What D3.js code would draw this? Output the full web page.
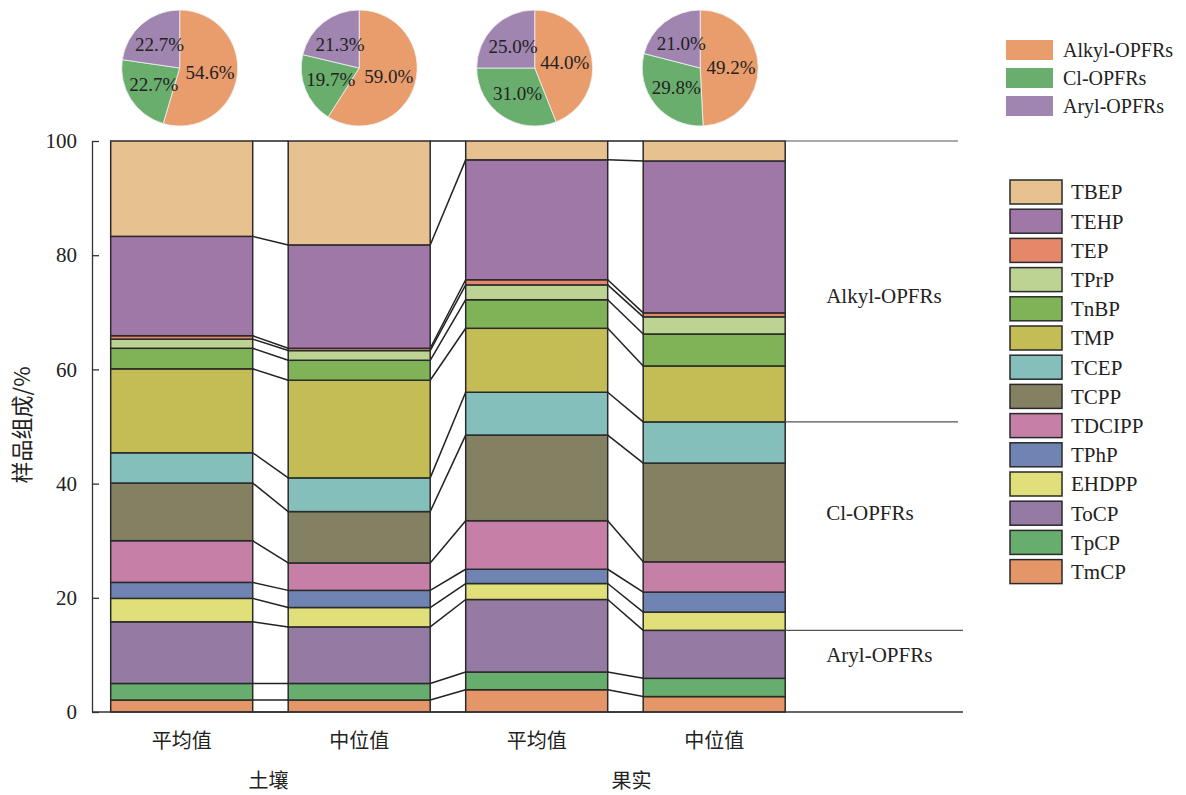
<!DOCTYPE html>
<html lang="zh">
<head>
    <meta charset="UTF-8">
    <title>OPFRs composition</title>
    <script src="https://d3js.org/d3.v7.min.js"></script>
    <style>
        body {
            margin: 0;
            background: #fff;
        }
        svg text {
            font-family: "Liberation Serif", "Noto Sans CJK SC", serif;
            fill: #222;
        }
        .cjk {
            font-family: "Noto Sans CJK SC", sans-serif;
        }
    </style>
</head>
<body>
    <div id="chart"></div>

    <script>
        // stacking order, bottom to top
        const compounds = ['TmCP', 'TpCP', 'ToCP', 'EHDPP', 'TPhP', 'TDCIPP', 'TCPP', 'TCEP',
                           'TMP', 'TnBP', 'TPrP', 'TEP', 'TEHP', 'TBEP'];
        const colors = ['#e59668', '#66ad6e', '#957ba3', '#e0df7a', '#7084b4', '#c680a8', '#838162', '#84bfbc',
                        '#c4bc55', '#80b257', '#bdd394', '#e5886a', '#a078a8', '#e8c190'];

        const barLabels = ['平均值', '中位值', '平均值', '中位值'];
        const groupLabels = ['土壤', '果实'];

        // sample composition (%) per bar, in compound order
        const soilMean    = [2.1, 2.9, 10.8, 4.1, 2.8, 7.3, 10.1, 5.3, 14.7, 3.6, 1.6, 0.6, 17.4, 16.7];
        const soilMedian  = [2.1, 2.9, 9.9, 3.4, 3.0, 4.8, 9.0, 5.9, 17.1, 3.5, 1.7, 0.4, 18.1, 18.2];
        const fruitMean   = [3.9, 3.1, 12.7, 2.8, 2.5, 8.5, 15.0, 7.5, 11.2, 5.0, 2.6, 0.9, 21.0, 3.3];
        const fruitMedian = [2.7, 3.2, 8.4, 3.2, 3.5, 5.3, 17.3, 7.2, 9.8, 5.6, 3.0, 0.7, 26.6, 3.5];
        const bars = [soilMean, soilMedian, fruitMean, fruitMedian];

        // class shares for the pies
        const classes = ['Alkyl-OPFRs', 'Cl-OPFRs', 'Aryl-OPFRs'];
        const classColors = ['#e99c6c', '#6aae6e', '#a085b0'];
        const pieSoilMean    = [54.6, 22.7, 22.7];
        const pieSoilMedian  = [59.0, 19.7, 21.3];
        const pieFruitMean   = [44.0, 31.0, 25.0];
        const pieFruitMedian = [49.2, 29.8, 21.0];
        const pies = [pieSoilMean, pieSoilMedian, pieFruitMean, pieFruitMedian];

        const yTicks = [0, 20, 40, 60, 80, 100];
        // class boundaries marked on the right (levels in the last bar) and label heights
        const bracketLevels = [100, 50.8, 14.3];
        const bracketLabels = ['Alkyl-OPFRs', 'Cl-OPFRs', 'Aryl-OPFRs'];
        const bracketLabelY = [73, 35, 10];

        const svg = d3.select('#chart').append('svg')
            .attr('width', 1186)
            .attr('height', 795);

        const x = d3.scaleBand()
            .domain(d3.range(bars.length))
            .range([110.7, 785.2])
            .paddingInner(0.2)
            .paddingOuter(0);

        const y = d3.scaleLinear()
            .domain([0, 100])
            .range([712, 141]);

        const bw = x.bandwidth();

        // cumulative boundaries for every bar
        const cums = bars.map(vals => {
            const c = [0];
            vals.forEach(v => c.push(c[c.length - 1] + v));
            c[c.length - 1] = 100;
            return c;
        });

        // connector lines between neighbouring bars
        const links = [];
        for (let i = 0; i < bars.length - 1; i++) {
            for (let k = 0; k < cums[i].length; k++) {
                links.push({ i, a: cums[i][k], b: cums[i + 1][k] });
            }
        }
        svg.append('g').selectAll('line')
            .data(links)
            .enter().append('line')
            .attr('x1', d => x(d.i) + bw)
            .attr('x2', d => x(d.i + 1))
            .attr('y1', d => y(d.a))
            .attr('y2', d => y(d.b))
            .attr('stroke', '#222')
            .attr('stroke-width', 1.5);

        // stacked bars
        const segs = [];
        bars.forEach((vals, i) => {
            vals.forEach((v, k) => {
                segs.push({ i, k, y0: cums[i][k], y1: cums[i][k + 1] });
            });
        });
        svg.append('g').selectAll('rect')
            .data(segs)
            .enter().append('rect')
            .attr('x', d => x(d.i))
            .attr('y', d => y(d.y1))
            .attr('width', bw)
            .attr('height', d => y(d.y0) - y(d.y1))
            .attr('fill', d => colors[d.k])
            .attr('stroke', '#2a2a2a')
            .attr('stroke-width', 1.5);

        // right side class brackets
        const lastRight = x(bars.length - 1) + bw;
        svg.append('g').selectAll('line')
            .data(bracketLevels)
            .enter().append('line')
            .attr('x1', lastRight)
            .attr('x2', (d, i) => i === 2 ? 963 : 958)
            .attr('y1', d => y(d))
            .attr('y2', d => y(d))
            .attr('stroke', '#555')
            .attr('stroke-width', 1.2);
        svg.append('g').selectAll('text')
            .data(bracketLabels)
            .enter().append('text')
            .attr('x', lastRight + 41)
            .attr('y', (d, i) => y(bracketLabelY[i]))
            .attr('dy', '0.35em')
            .attr('font-size', 21)
            .text(d => d);

        // y axis
        const yAxis = svg.append('g')
            .attr('transform', 'translate(92,0)')
            .call(d3.axisLeft(y).tickValues(yTicks).tickSize(-7).tickSizeOuter(0).tickPadding(15));
        yAxis.select('.domain').attr('stroke', '#333').attr('stroke-width', 1.3);
        yAxis.selectAll('.tick line').attr('stroke', '#333').attr('stroke-width', 1.3);
        yAxis.selectAll('.tick text')
            .attr('font-size', 21)
            .attr('font-family', '"Liberation Serif", serif')
            .attr('fill', '#222');

        // x baseline
        svg.append('line')
            .attr('x1', 92).attr('x2', 963)
            .attr('y1', y(0)).attr('y2', y(0))
            .attr('stroke', '#333')
            .attr('stroke-width', 1.5);

        // category labels
        svg.append('g').selectAll('text')
            .data(barLabels)
            .enter().append('text')
            .attr('class', 'cjk')
            .attr('x', (d, i) => x(i) + bw / 2)
            .attr('y', 741)
            .attr('dy', '0.35em')
            .attr('text-anchor', 'middle')
            .attr('font-size', 20)
            .text(d => d);

        svg.append('g').selectAll('text')
            .data(groupLabels)
            .enter().append('text')
            .attr('class', 'cjk')
            .attr('x', (d, i) => (x(2 * i) + x(2 * i + 1) + bw) / 2 + (i === 1 ? 6 : -2))
            .attr('y', 781)
            .attr('dy', '0.35em')
            .attr('text-anchor', 'middle')
            .attr('font-size', 20)
            .text(d => d);

        // y title
        svg.append('text')
            .attr('class', 'cjk')
            .attr('transform', 'translate(22,425) rotate(-90)')
            .attr('dy', '0.35em')
            .attr('text-anchor', 'middle')
            .attr('font-size', 22)
            .text('样品组成/%');

        // pies above the bars
        const pieShift = [-2, 0, -2, -14];
        const radius = 58;
        const pie = d3.pie().sort(null).value(d => d);
        const arc = d3.arc().innerRadius(0).outerRadius(radius);
        const labelArc = d3.arc().innerRadius(radius * 0.53).outerRadius(radius * 0.53);

        pies.forEach((vals, i) => {
            const g = svg.append('g')
                .attr('transform', `translate(${x(i) + bw / 2 + pieShift[i]},68)`);
            const arcs = pie(vals);
            g.selectAll('path')
                .data(arcs)
                .enter().append('path')
                .attr('d', arc)
                .attr('fill', (d, k) => classColors[k])
                .attr('stroke', '#f2f2f2')
                .attr('stroke-width', 0.8);
            g.selectAll('text')
                .data(arcs)
                .enter().append('text')
                .attr('transform', d => `translate(${labelArc.centroid(d)})`)
                .attr('dy', '0.35em')
                .attr('text-anchor', 'middle')
                .attr('font-size', 19)
                .text(d => d.value.toFixed(1) + '%');
        });

        // pie legend
        const pieLegend = svg.append('g').attr('transform', 'translate(1006,40)');
        classes.forEach((c, k) => {
            const row = pieLegend.append('g').attr('transform', `translate(0,${k * 28})`);
            row.append('rect')
                .attr('width', 47).attr('height', 20)
                .attr('fill', classColors[k]);
            row.append('text')
                .attr('x', 57).attr('y', 10)
                .attr('dy', '0.35em')
                .attr('font-size', 20)
                .text(c);
        });

        // compound legend, top item is the top of the stack
        const legend = svg.append('g').attr('transform', 'translate(1010,180)');
        compounds.slice().reverse().forEach((c, k) => {
            const idx = compounds.length - 1 - k;
            const row = legend.append('g').attr('transform', `translate(0,${k * 29.2})`);
            row.append('rect')
                .attr('width', 52).attr('height', 24)
                .attr('fill', colors[idx])
                .attr('stroke', '#2a2a2a')
                .attr('stroke-width', 1.5);
            row.append('text')
                .attr('x', 61).attr('y', 12)
                .attr('dy', '0.35em')
                .attr('font-size', 21)
                .text(c);
        });
    </script>
</body>
</html>
